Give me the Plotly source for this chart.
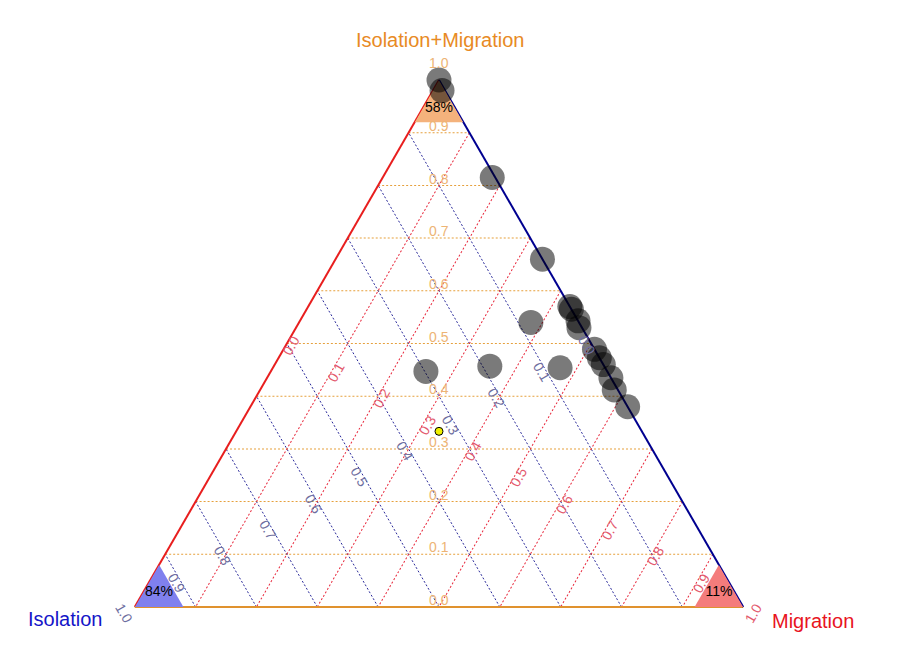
import math
import plotly.graph_objects as go

# ---------------- data (ternary compositions) ----------------
iso_mig   = [1.00, 0.98, 0.815, 0.66, 0.57, 0.565, 0.543, 0.53, 0.54, 0.489, 0.473, 0.46, 0.435, 0.412, 0.38, 0.457, 0.454, 0.447]
isolation = [0.00, 0.005, 0.005, 0.00, 0.00, 0.00, 0.00, 0.005, 0.079, 0.00, 0.00, 0.00, 0.00, 0.006, 0.00, 0.188, 0.074, 0.298]
migration = [0.00, 0.015, 0.18, 0.34, 0.43, 0.435, 0.457, 0.465, 0.381, 0.511, 0.527, 0.54, 0.565, 0.582, 0.62, 0.355, 0.472, 0.255]

centroid = [1 / 3, 1 / 3, 1 / 3]          # (iso_mig, isolation, migration)

corner_names = ["Isolation+Migration", "Isolation", "Migration"]
corner_pct = ["58%", "84%", "11%"]
corner_size = 0.08

tick_values = [0.0, 0.1, 0.2, 0.3, 0.4, 0.5, 0.6, 0.7, 0.8, 0.9, 1.0]
tick_labels = ["0.0", "0.1", "0.2", "0.3", "0.4", "0.5", "0.6", "0.7", "0.8", "0.9", "1.0"]

# ---------------- style ----------------
FONT = "Arial, Liberation Sans, sans-serif"
C_ORANGE_T = "#E88A24"
C_BLUE_T = "#1515C8"
C_RED_T = "#E8141E"
GRID_A = "#E6A03C"
GRID_B = "#2A2A9A"
GRID_C = "#E8283C"
LAB_A = "#EDB475"
LAB_B = "#6E6EA0"
LAB_C = "#E35A6E"
FILL_A = "#F4B27C"
FILL_B = "#8080EE"
FILL_C = "#F47C7C"

PAGE_OFF = 8            # default page body margin of the html page
W, H = 900, 657
ML, MT = 134 - PAGE_OFF, 80 - PAGE_OFF
WP, HP = 610, 527
MR, MB = W - ML - WP, H - MT - HP
h_tri = min(HP, WP * math.sqrt(3) / 2)
w_tri = h_tri * 2 / math.sqrt(3)
x_off = (WP - w_tri) / 2
y_off = (HP - h_tri) / 2


def to_paper(a, b, c):
    s = a + b + c
    a, c = a / s, c / s
    return (x_off + w_tri * (c + a / 2)) / WP, (y_off + h_tri * a) / HP


def px_to_paper(px, py):
    return (px - PAGE_OFF - ML) / WP, (MT + HP - (py - PAGE_OFF)) / HP


fig = go.Figure()

# corner triangles
for k, (col, pct) in enumerate(zip([FILL_A, FILL_B, FILL_C], corner_pct)):
    verts = []
    for j in range(3):
        v = [0.0, 0.0, 0.0]
        v[k] = 1.0 if j == 0 else 1 - corner_size
        if j > 0:
            v[(k + j) % 3] = corner_size
        verts.append(v)
    verts.append(verts[0])
    fig.add_trace(go.Scatterternary(
        a=[v[0] for v in verts], b=[v[1] for v in verts], c=[v[2] for v in verts],
        mode="lines", fill="toself", fillcolor=col, line=dict(width=0, color=col),
        hoverinfo="skip", showlegend=False))

# data points
fig.add_trace(go.Scatterternary(
    a=iso_mig, b=isolation, c=migration, mode="markers",
    marker=dict(size=25, color="black", opacity=0.52, line=dict(width=0)),
    cliponaxis=False, showlegend=False))

# centroid
fig.add_trace(go.Scatterternary(
    a=[centroid[0]], b=[centroid[1]], c=[centroid[2]], mode="markers",
    marker=dict(size=8, color="#F0F000", line=dict(width=1, color="black")),
    cliponaxis=False, showlegend=False))

# corner percentage labels
ca, cb, cc = [], [], []
for k in range(3):
    v = [corner_size / 3] * 3
    v[k] = 1 - 2 * corner_size / 3
    ca.append(v[0]); cb.append(v[1]); cc.append(v[2])
fig.add_trace(go.Scatterternary(
    a=ca, b=cb, c=cc, mode="text", text=corner_pct,
    textfont=dict(family=FONT, size=14, color="black"),
    cliponaxis=False, hoverinfo="skip", showlegend=False))

# tick labels along medians
annotations = []
for v, t in zip(tick_values, tick_labels):
    # Isolation+Migration (a) – horizontal lines
    av = v + (0.033 if v == 1.0 else 0.013)
    x, y = to_paper(av, (1 - av) / 2, (1 - av) / 2)
    annotations.append(dict(x=x, y=y, xref="paper", yref="paper", text=t, showarrow=False,
                            borderpad=0, font=dict(family=FONT, size=14, color=LAB_A),
                            xanchor="center", yanchor="middle"))
    # Migration (c)
    cv = v + (0.022 if v == 1.0 else 0.008)
    x, y = to_paper((1 - cv) / 2, (1 - cv) / 2, cv)
    annotations.append(dict(x=x, y=y, xref="paper", yref="paper", text=t, showarrow=False,
                            borderpad=0, textangle=-60, font=dict(family=FONT, size=14, color=LAB_C),
                            xanchor="center", yanchor="middle"))
    # Isolation (b)
    bv = v + (0.024 if v == 1.0 else 0.008)
    x, y = to_paper((1 - bv) / 2, bv, (1 - bv) / 2)
    annotations.append(dict(x=x, y=y, xref="paper", yref="paper", text=t, showarrow=False,
                            borderpad=0, textangle=60, font=dict(family=FONT, size=14, color=LAB_B),
                            xanchor="center", yanchor="middle"))

# corner titles
for name, (px, py), anchor, col in [
        (corner_names[0], (440, 40), "center", C_ORANGE_T),
        (corner_names[1], (104, 619), "right", C_BLUE_T),
        (corner_names[2], (771, 621), "left", C_RED_T)]:
    x, y = px_to_paper(px, py)
    annotations.append(dict(x=x, y=y, xref="paper", yref="paper", text=name, showarrow=False,
                            borderpad=0, xanchor=anchor, yanchor="middle",
                            font=dict(family=FONT, size=20, color=col)))


def axis(gridcolor, linecolor):
    return dict(showgrid=True, gridcolor=gridcolor, griddash="2px,2px", gridwidth=1,
                tick0=0, dtick=0.1, showticklabels=False, ticks="", showline=True,
                linecolor=linecolor, linewidth=2, title=dict(text=""), min=0, layer="below traces")


fig.update_layout(
    width=W, height=H, margin=dict(l=ML, r=MR, t=MT, b=MB),
    paper_bgcolor="white", plot_bgcolor="white",
    font=dict(family=FONT),
    ternary=dict(
        sum=1, bgcolor="white",
        aaxis=axis(GRID_A, "#E81E1E"),
        baxis=axis(GRID_B, "#E0922E"),
        caxis=axis(GRID_C, "#000090"),
    ),
    annotations=annotations,
    showlegend=False,
)

fig.write_html("out.html")
